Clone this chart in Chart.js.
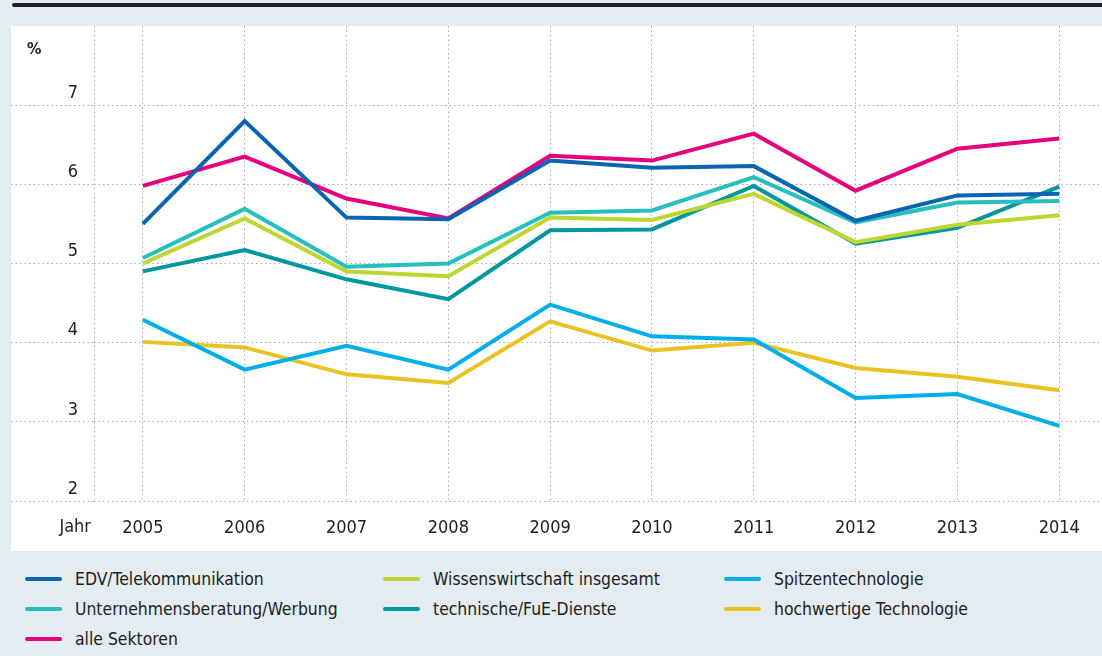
<!DOCTYPE html>
<html>
<head>
<meta charset="utf-8">
<script src="https://cdn.jsdelivr.net/npm/chart.js@4/dist/chart.umd.min.js"></script>
<style>
    html, body { margin: 0; padding: 0; }
    body {
        width: 1102px; height: 656px; overflow: hidden; position: relative;
        background: #e3ecf0;
        color: #222;
    }
    #topbar {
        position: absolute; left: 12px; top: 3px; width: 1090px; height: 4px;
        background: #231f20; border-radius: 2px 0 0 2px;
    }
    #panel {
        position: absolute; left: 11px; top: 26px; width: 1091px; height: 525px;
        background: #fff;
    }
    #legend {
        position: absolute; left: 25px; top: 564px;
        display: grid; grid-template-columns: 358px 341px 300px; grid-auto-rows: 30px;
    }
    .item { display: flex; align-items: center; white-space: nowrap; }
    .swatch { width: 37px; height: 4px; border-radius: 2px; margin-right: 13px; flex: none; }
</style>
</head>
<body>
<div id="topbar"></div>
<div id="panel"><canvas id="line-graph" width="1091" height="525"></canvas></div>
<div id="legend"></div>

<script>
    const years = [2005, 2006, 2007, 2008, 2009, 2010, 2011, 2012, 2013, 2014]

    const edvTelekom = [5.50, 6.80, 5.58, 5.56, 6.30, 6.21, 6.23, 5.54, 5.86, 5.88]
    const beratungWerbung = [5.07, 5.69, 4.96, 5.00, 5.64, 5.67, 6.09, 5.52, 5.77, 5.79]
    const alleSektoren = [5.98, 6.35, 5.82, 5.57, 6.36, 6.30, 6.64, 5.92, 6.45, 6.58]
    const wissenswirtschaft = [5.00, 5.57, 4.90, 4.84, 5.58, 5.55, 5.88, 5.27, 5.49, 5.61]
    const fueDienste = [4.90, 5.17, 4.80, 4.55, 5.42, 5.43, 5.98, 5.25, 5.45, 5.97]
    const spitzentechnologie = [4.29, 3.66, 3.96, 3.66, 4.48, 4.08, 4.04, 3.30, 3.35, 2.95]
    const hochwertigeTech = [4.01, 3.94, 3.60, 3.49, 4.27, 3.90, 4.00, 3.68, 3.57, 3.40]

    // legend is read row by row, three columns
    const series = [
        { label: "EDV/Telekommunikation", values: edvTelekom, color: "#0a64b0" },
        { label: "Wissenswirtschaft insgesamt", values: wissenswirtschaft, color: "#bdd630" },
        { label: "Spitzentechnologie", values: spitzentechnologie, color: "#00aeea" },
        { label: "Unternehmensberatung/Werbung", values: beratungWerbung, color: "#25bfbd" },
        { label: "technische/FuE-Dienste", values: fueDienste, color: "#00979e" },
        { label: "hochwertige Technologie", values: hochwertigeTech, color: "#eac322" },
        { label: "alle Sektoren", values: alleSektoren, color: "#e6007e" }
    ]

    // pick a narrow font if one is installed, Roboto otherwise
    function pickFont() {
        let c = document.createElement('canvas').getContext('2d')
        let sample = "2005 EDV/Telekommunikation"
        c.font = "20px monospace"
        let base = c.measureText(sample).width
        let names = ["Liberation Sans Narrow", "DejaVu Sans Condensed", "Roboto Condensed", "Arial Narrow"]
        for (let name of names) {
            c.font = "20px '" + name + "', monospace"
            if (Math.abs(c.measureText(sample).width - base) > 0.5) {
                return { family: "'" + name + "', Roboto, sans-serif", tick: 18, legend: 17.4 }
            }
        }
        return { family: "Roboto, sans-serif", tick: 17, legend: 16.5 }
    }

    const FONT = pickFont()
    const GRID = "#ababab"
    const DOTS = [1.5, 3]
    const NONE = 'rgba(0,0,0,0)'

    let datasets = series.map((s) => {
        return {
            label: s.label,
            data: years.map((year, i) => {
                return { x: year, y: s.values[i] }
            }),
            borderColor: s.color,
            backgroundColor: s.color,
            borderWidth: 4,
            pointRadius: 0,
            tension: 0,
            fill: false
        }
    })

    // dotted left edge of the plot, plus "%" and "Jahr"
    let axisText = {
        id: 'axisText',
        beforeDatasetsDraw(chart) {
            let ctx = chart.ctx
            let area = chart.chartArea
            ctx.save()
            ctx.strokeStyle = GRID
            ctx.lineWidth = 1
            ctx.setLineDash(DOTS)
            ctx.beginPath()
            ctx.moveTo(area.left + 0.5, area.top)
            ctx.lineTo(area.left + 0.5, area.bottom)
            ctx.stroke()
            ctx.restore()
        },
        afterDraw(chart) {
            let ctx = chart.ctx
            let area = chart.chartArea
            ctx.save()
            ctx.fillStyle = "#222"
            ctx.font = "bold 16px " + FONT.family
            ctx.textAlign = "left"
            ctx.textBaseline = "middle"
            ctx.fillText("%", 16, 24)
            ctx.font = FONT.tick + "px " + FONT.family
            ctx.textAlign = "right"
            ctx.fillText("Jahr", area.left - 3, area.bottom + 26)
            ctx.restore()
        }
    }

    let options = {
        responsive: false,
        animation: false,
        layout: { padding: 0 },
        plugins: {
            legend: { display: false },
            tooltip: { enabled: false }
        },
        scales: {
            x: {
                type: 'linear',
                min: 2004.52,
                max: 2014.42,
                afterFit: (scale) => { scale.height = 50 },
                ticks: {
                    stepSize: 1,
                    includeBounds: false,
                    autoSkip: false,
                    maxRotation: 0,
                    padding: 17,
                    color: "#222",
                    font: { family: FONT.family, size: FONT.tick },
                    callback: (value) => Number.isInteger(value) ? String(value) : ''
                },
                grid: {
                    drawTicks: false,
                    color: (ctx) => Number.isInteger(ctx.tick.value) ? GRID : NONE,
                    lineWidth: 1
                },
                // in v4 the grid line dash comes from border.dash
                border: { display: false, dash: DOTS }
            },
            y: {
                min: 2,
                max: 8,
                afterFit: (scale) => { scale.width = 83 },
                ticks: {
                    stepSize: 1,
                    padding: -67,
                    labelOffset: -12,
                    color: "#222",
                    font: { family: FONT.family, size: FONT.tick },
                    callback: (value) => value < 8 ? String(value) : ''
                },
                grid: {
                    drawTicks: true,
                    tickLength: 83,
                    color: (ctx) => ctx.tick.value < 8 ? GRID : NONE,
                    tickColor: (ctx) => ctx.tick.value < 8 ? GRID : NONE,
                    tickBorderDash: DOTS,
                    lineWidth: 1
                },
                border: { display: false, dash: DOTS }
            }
        }
    }

    let chart = new Chart(document.getElementById('line-graph').getContext('2d'), {
        type: 'line',
        data: { datasets: datasets },
        options: options,
        plugins: [axisText]
    })

    // html legend built from the chart datasets
    let legend = document.getElementById('legend')
    legend.style.fontFamily = FONT.family
    legend.style.fontSize = FONT.legend + "px"
    chart.data.datasets.map((ds) => {
        let item = document.createElement('div')
        item.className = 'item'
        let swatch = document.createElement('span')
        swatch.className = 'swatch'
        swatch.style.background = ds.borderColor
        let text = document.createElement('span')
        text.textContent = ds.label
        item.appendChild(swatch)
        item.appendChild(text)
        legend.appendChild(item)
    })
</script>
</body>
</html>
